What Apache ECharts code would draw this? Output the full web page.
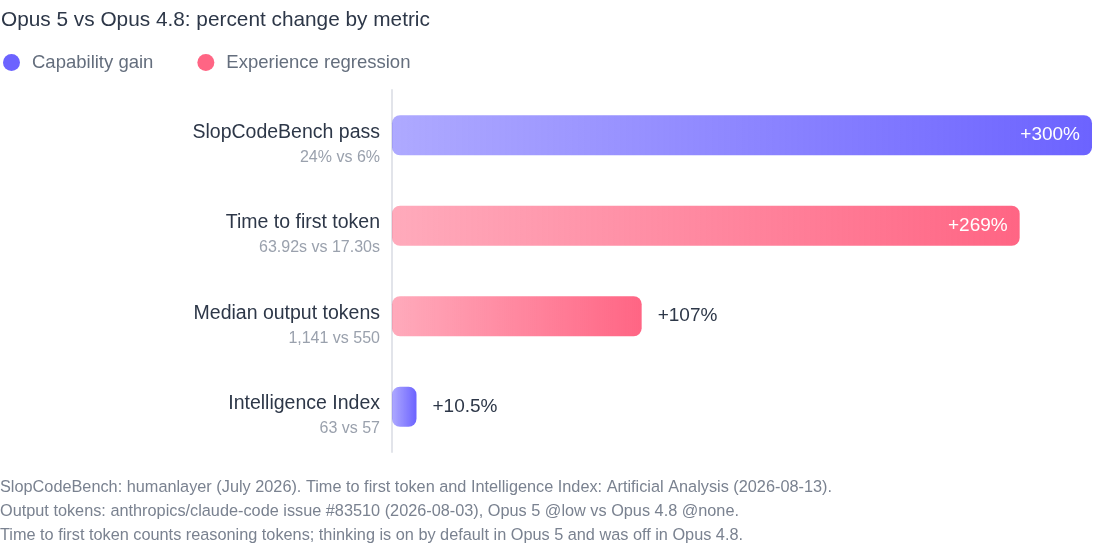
<!DOCTYPE html>
<html lang="en">
  <head>
    <meta charset="UTF-8" />
    <title>Opus 5 vs Opus 4.8</title>
    <style>
      html, body { margin: 0; padding: 0; background: #ffffff; }
      #app { width: 1120px; height: 554px; }
    </style>
  </head>
  <body>
    <div id="app"></div>
    <script src="https://cdn.jsdelivr.net/npm/echarts@6/dist/echarts.min.js"></script>
    <script>
      var metrics = ['SlopCodeBench pass', 'Time to first token', 'Median output tokens', 'Intelligence Index']
      var details = ['24% vs 6%', '63.92s vs 17.30s', '1,141 vs 550', '63 vs 57']
      var changes = [300, 269, 107, 10.5]
      var kinds = ['gain', 'regression', 'regression', 'gain']
      var valueLabels = ['+300%', '+269%', '+107%', '+10.5%']
      var notes = [
        'SlopCodeBench: humanlayer (July 2026). Time to first token and Intelligence Index: Artificial Analysis (2026-08-13).',
        'Output tokens: anthropics/claude-code issue #83510 (2026-08-03), Opus 5 @low vs Opus 4.8 @none.',
        'Time to first token counts reasoning tokens; thinking is on by default in Opus 5 and was off in Opus 4.8.'
      ]

      var FONT = '"Liberation Sans", Arial, sans-serif'
      var colors = { gain: '#6C63FF', regression: '#FF6584' }
      var fades = { gain: 'rgba(108,99,255,0.55)', regression: 'rgba(255,101,132,0.55)' }
      var names = { gain: 'Capability gain', regression: 'Experience regression' }

      function makeSeries(kind) {
        return {
          name: names[kind],
          type: 'bar',
          stack: 'all',
          barWidth: 40,
          itemStyle: { color: colors[kind], borderRadius: 8 },
          data: changes.map(function (v, i) {
            if (kinds[i] !== kind) return null
            var inside = v > 200
            return {
              value: v,
              itemStyle: {
                borderRadius: 8,
                color: new echarts.graphic.LinearGradient(0, 0, 1, 0, [
                  { offset: 0, color: fades[kind] },
                  { offset: 1, color: colors[kind] }
                ])
              },
              label: {
                show: true,
                position: inside ? 'insideRight' : 'right',
                distance: inside ? 12 : 16,
                color: inside ? '#ffffff' : '#2d3748',
                fontSize: 19,
                fontFamily: FONT,
                formatter: valueLabels[i]
              }
            }
          })
        }
      }

      var chart = echarts.init(document.getElementById('app'))
      chart.setOption({
        animation: false,
        textStyle: { fontFamily: FONT },
        title: {
          text: 'Opus 5 vs Opus 4.8: percent change by metric',
          left: 1,
          top: 10,
          padding: 0,
          textStyle: { fontSize: 20.8, fontWeight: 'normal', color: '#2d3748', fontFamily: FONT }
        },
        legend: {
          left: 3,
          top: 53,
          padding: 0,
          icon: 'circle',
          itemWidth: 17,
          itemHeight: 17,
          itemGap: 44,
          textStyle: { fontSize: 18.5, color: '#646e7d', fontFamily: FONT, padding: [0, 0, 0, 7] },
          data: [names.gain, names.regression]
        },
        grid: { left: 392, right: 28, top: 90, bottom: 102 },
        xAxis: { type: 'value', min: 0, max: 300, show: false },
        yAxis: {
          type: 'category',
          inverse: true,
          data: metrics,
          axisTick: { show: false },
          axisLine: { show: true, lineStyle: { color: '#e2e4ea', width: 2 } },
          axisLabel: {
            margin: 12,
            padding: [18, 0, 0, 0],
            formatter: function (v, i) {
              return '{n|' + v + '}\n{d|' + details[i] + '}'
            },
            rich: {
              n: { fontSize: 19.5, color: '#2d3748', fontFamily: FONT, lineHeight: 26, align: 'right' },
              d: { fontSize: 16, color: '#9aa1ad', fontFamily: FONT, lineHeight: 24, align: 'right' }
            }
          }
        },
        graphic: [{
          type: 'text',
          left: 0,
          top: 476,
          style: {
            text: notes.join('\n'),
            fontSize: 16.3,
            lineHeight: 24,
            fill: '#7a8290',
            fontFamily: FONT
          }
        }],
        series: [makeSeries('gain'), makeSeries('regression')]
      })
    </script>
  </body>
</html>
